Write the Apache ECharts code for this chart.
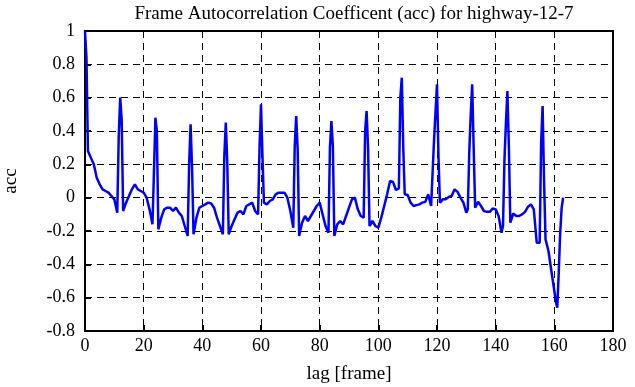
<!DOCTYPE html>
<html>
<head>
    <meta charset="utf-8">
    <title>acc</title>
    <script src="https://cdn.jsdelivr.net/npm/echarts@6/dist/echarts.min.js"></script>
</head>
<body style="margin:0">
    <div id="main" style="width:635px;height:387px;"></div>
    <script type="text/javascript">
// lag values (frames) and autocorrelation
var lags = [0, 0.5, 1, 2, 3, 4, 5, 6, 7, 8, 9, 10, 11, 11.5, 12, 12.5, 13, 14, 15, 16, 17, 18, 19, 20,
    21, 22, 23, 23.5, 24, 24.5, 25, 26, 27, 28, 29, 30, 31, 32, 33, 34, 35, 35.5, 36, 36.5, 37, 38, 39, 40,
    41, 42, 43, 44, 45, 46, 47, 47.5, 48, 48.5, 49, 50, 51, 52, 53, 54, 55, 56, 57, 58, 59, 59.5, 60, 60.5,
    61, 62, 63, 64, 65, 66, 67, 68, 69, 70, 71, 71.5, 72, 72.5, 73, 74, 75, 76, 77, 78, 79, 80,
    81, 82, 83, 83.5, 84, 84.5, 85, 86, 87, 88, 89, 90, 91, 92, 93, 94, 95, 95.5, 96, 96.5, 97, 98, 99, 100,
    101, 102, 103, 104, 105, 106, 107, 107.5, 108, 108.5, 109, 110, 111, 112, 113, 114, 115, 116, 117, 118,
    118.5, 119, 120, 120.5, 121, 122, 123, 124, 125, 126, 127, 128, 129, 130, 130.5, 131, 131.5, 132, 132.5,
    133, 134, 135, 136, 137, 138, 139, 140, 141, 142, 142.5, 143, 143.5, 144, 144.5, 145, 146, 147, 148,
    149, 150, 151, 152, 153, 153.5, 154, 155, 155.5, 156, 156.5, 157, 158, 159, 160, 160.5, 161, 161.5,
    162, 162.5, 163];
var acc = [1.0, 0.84, 0.28, 0.24, 0.2, 0.12, 0.08, 0.05, 0.04, 0.03, 0.01, -0.01, -0.09, 0.37, 0.6, 0.47, -0.08, -0.03, 0.01, 0.05, 0.08, 0.05, 0.04, 0.03,
    0.0, -0.07, -0.16, 0.15, 0.48, 0.4, -0.19, -0.12, -0.07, -0.06, -0.06, -0.08, -0.06, -0.09, -0.11, -0.17, -0.23, 0.2, 0.44, 0.18, -0.22, -0.12, -0.06, -0.05,
    -0.04, -0.03, -0.035, -0.06, -0.12, -0.17, -0.22, 0.25, 0.45, 0.21, -0.22, -0.17, -0.13, -0.09, -0.08, -0.1, -0.05, -0.04, -0.03, -0.08, -0.1, 0.3, 0.56, 0.25,
    -0.03, -0.04, -0.02, -0.01, 0.02, 0.03, 0.03, 0.03, 0.0, -0.08, -0.18, 0.31, 0.49, 0.29, -0.23, -0.15, -0.11, -0.14, -0.11, -0.08, -0.05, -0.03,
    -0.1, -0.17, -0.21, 0.3, 0.46, 0.31, -0.23, -0.16, -0.14, -0.16, -0.11, -0.06, -0.01, 0.0, -0.07, -0.11, -0.12, 0.4, 0.52, 0.3, -0.17, -0.14, -0.17, -0.18,
    -0.12, -0.05, 0.02, 0.1, 0.095, 0.046, 0.056, 0.6, 0.72, 0.3, 0.02, 0.016, -0.03, -0.05, -0.045, -0.04, -0.03, -0.025, 0.02, -0.05,
    -0.055, 0.35, 0.68, 0.25, -0.03, -0.01, -0.01, 0.005, 0.01, 0.05, 0.035, 0.0, -0.03, -0.09, -0.07, 0.27, 0.5, 0.68, 0.3,
    -0.06, -0.025, -0.05, -0.08, -0.085, -0.085, -0.065, -0.07, -0.11, -0.21, -0.17, 0.23, 0.45, 0.64, 0.31, -0.15, -0.095, -0.11, -0.11,
    -0.1, -0.085, -0.055, -0.04, -0.07, -0.17, -0.27, -0.27, 0.33, 0.55, 0.1, -0.25, -0.32, -0.44, -0.56, -0.62, -0.66, -0.45,
    -0.21, -0.06, 0.0];

var xTicks = {min: 0, max: 180, step: 20};
var yTicks = {min: -0.8, max: 1, step: 0.2};

var pts = [];
for (var i = 0; i < lags.length; i++) {
    pts.push([lags[i], acc[i]]);
}

var font = 'Liberation Serif';
var chart = echarts.init(document.getElementById('main'));
chart.setOption({
    backgroundColor: '#fff',
    animation: false,
    title: {
        text: 'Frame Autocorrelation Coefficent (acc) for highway-12-7',
        left: 349,
        textAlign: 'center',
        top: 0,
        textStyle: {fontFamily: font, fontSize: 19, fontWeight: 'normal', color: '#000'}
    },
    grid: {
        left: 85, right: 22, top: 31, bottom: 56,
        show: true, borderColor: '#000', borderWidth: 2,
        containLabel: false, outerBoundsMode: 'none'
    },
    xAxis: {
        type: 'value',
        min: xTicks.min, max: xTicks.max, interval: xTicks.step,
        name: 'lag [frame]',
        nameLocation: 'middle',
        nameGap: 34,
        nameTextStyle: {fontFamily: font, fontSize: 19, color: '#000'},
        axisLine: {onZero: false, lineStyle: {color: '#000', width: 2}},
        axisTick: {inside: true, length: 6, lineStyle: {color: '#000', width: 2}},
        axisLabel: {fontFamily: font, fontSize: 18, color: '#000', margin: 6},
        splitLine: {show: true, lineStyle: {color: '#000', width: 1, type: [7, 5]}}
    },
    yAxis: {
        type: 'value',
        min: yTicks.min, max: yTicks.max, interval: yTicks.step,
        name: 'acc',
        nameLocation: 'middle',
        nameGap: 64,
        nameRotate: 90,
        nameTextStyle: {fontFamily: font, fontSize: 19, color: '#000'},
        axisLine: {onZero: false, lineStyle: {color: '#000', width: 2}},
        axisTick: {inside: true, length: 6, lineStyle: {color: '#000', width: 2}},
        axisLabel: {fontFamily: font, fontSize: 18, color: '#000', margin: 10,
            formatter: function (v) { return String(Math.round(v * 10) / 10); }},
        splitLine: {show: true, lineStyle: {color: '#000', width: 1, type: [7, 5]}}
    },
    series: [{
        type: 'line',
        data: pts,
        showSymbol: false,
        symbol: 'none',
        lineStyle: {color: '#0000ff', width: 2.5},
        z: 3
    }]
});
    </script>
</body>
</html>
